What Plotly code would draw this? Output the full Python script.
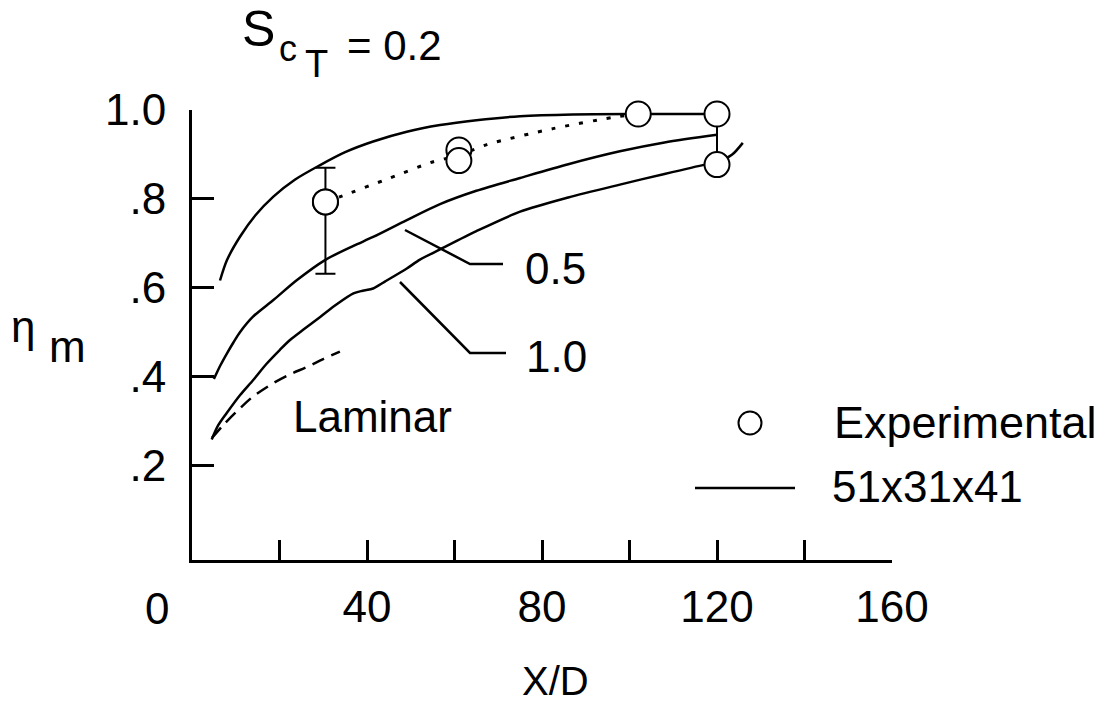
import plotly.graph_objects as go

# ---------------- data ----------------
sc02_x = [6.4, 8.0, 11.0, 14.5, 18.6, 23.5, 29.3, 35.0, 41.4, 49.1, 56.7, 65.0, 75.0, 87.0, 102.0, 120.0]
sc02_y = [0.616, 0.662, 0.715, 0.763, 0.805, 0.843, 0.876, 0.905, 0.929, 0.951, 0.966, 0.977, 0.986, 0.990, 0.991, 0.991]

sc05_x = [5.0, 6.5, 8.0, 9.5, 11.0, 14.0, 18.6, 24.0, 30.4, 36.9, 41.4, 49.1, 56.7, 65.0, 75.0, 86.0, 97.8, 108.0, 120.0]
sc05_y = [0.394, 0.425, 0.452, 0.477, 0.500, 0.535, 0.572, 0.617, 0.662, 0.694, 0.714, 0.752, 0.788, 0.818, 0.847, 0.878, 0.907, 0.927, 0.944]

sc10_x = [4.5, 6.0, 7.9, 11.0, 14.0, 17.0, 20.1, 22.4, 25.4, 29.3, 33.0, 36.9, 39.0, 41.4, 44.0, 49.1,
          52.1, 56.7, 65.0, 75.0, 86.0, 97.8, 108.0, 117.3, 120.0, 123.4, 125.9]
sc10_y = [0.258, 0.290, 0.317, 0.358, 0.392, 0.428, 0.460, 0.482, 0.505, 0.534, 0.562, 0.587, 0.593, 0.598, 0.613, 0.643,
          0.663, 0.686, 0.727, 0.771, 0.803, 0.832, 0.856, 0.877, 0.882, 0.899, 0.926]

lam_x = [4.6, 7.2, 10.2, 14.0, 18.6, 22.0, 26.2, 30.0, 33.8]
lam_y = [0.262, 0.291, 0.321, 0.355, 0.385, 0.403, 0.421, 0.439, 0.456]

dot_x = [30.5, 34.5, 45.0, 55.0, 61.0, 67.4, 82.5, 96.0, 102.0]
dot_y = [0.793, 0.807, 0.846, 0.883, 0.898, 0.922, 0.958, 0.983, 0.991]

exp_x = [30.5, 61.0, 61.0, 102.0, 120.0, 120.0]
exp_y = [0.793, 0.910, 0.886, 0.991, 0.991, 0.877]

err_x = [30.5]
err_y = [0.793]
err_plus = [0.077]
err_minus = [0.162]

link_x = [120.0, 120.0]
link_y = [0.991, 0.877]

x_tickvals = [0, 20, 40, 60, 80, 100, 120, 140, 160]
x_ticktext = ["", "", "40", "", "80", "", "120", "", "160"]
y_tickvals = [0.2, 0.4, 0.6, 0.8, 1.0]
y_ticktext = [".2", ".4", ".6", ".8", "1.0"]

# ---------------- figure ----------------
FONT = "Liberation Sans, Arial, Helvetica, sans-serif"
L, R, T, B = 192, 223, 110, 148
W, H = 1115, 708
PW, PH = W - L - R, H - T - B


def px(x):
    return (x - L) / PW


def py(y):
    return (H - B - y) / PH


fig = go.Figure()
line_style = dict(color="black", width=2.5, shape="spline", smoothing=0.8)

for xs, ys in ((sc02_x, sc02_y), (sc05_x, sc05_y), (sc10_x, sc10_y)):
    fig.add_trace(go.Scatter(x=xs, y=ys, mode="lines", line=line_style, cliponaxis=False))

fig.add_trace(go.Scatter(x=lam_x, y=lam_y, mode="lines",
                         line=dict(color="black", width=2.5, dash="13px,8px",
                                   shape="spline", smoothing=0.8),
                         cliponaxis=False))
fig.add_trace(go.Scatter(x=dot_x, y=dot_y, mode="lines",
                         line=dict(color="black", width=3, dash="4px,10px",
                                   shape="spline", smoothing=0.8),
                         cliponaxis=False))
fig.add_trace(go.Scatter(x=link_x, y=link_y, mode="lines",
                         line=dict(color="black", width=2), cliponaxis=False))
fig.add_trace(go.Scatter(x=err_x, y=err_y, mode="markers",
                         marker=dict(size=25, color="white", line=dict(color="black", width=2)),
                         error_y=dict(type="data", symmetric=False, array=err_plus,
                                      arrayminus=err_minus, color="black", thickness=2, width=10),
                         cliponaxis=False))
fig.add_trace(go.Scatter(x=exp_x, y=exp_y, mode="markers",
                         marker=dict(size=25, color="white", symbol="circle",
                                     line=dict(color="black", width=2)),
                         cliponaxis=False))

# leader lines and legend decorations (in pixel-derived paper coords)
shapes = []


def seg(points, width=2.5):
    d = "M " + " L ".join(f"{px(a)},{py(b)}" for a, b in points)
    shapes.append(dict(type="path", xref="paper", yref="paper", path=d,
                       line=dict(color="black", width=width)))


seg([(405, 230), (470, 264), (503, 264)])
seg([(400, 282), (470, 353), (506, 353)])
seg([(695, 488), (795, 488)])
shapes.append(dict(type="circle", xref="paper", yref="paper",
                   x0=px(750 - 11.5), x1=px(750 + 11.5), y0=py(423 + 11.5), y1=py(423 - 11.5),
                   line=dict(color="black", width=2), fillcolor="white"))

annotations = []


def txt(s, x, y, size=44, xanchor="center", yanchor="middle"):
    annotations.append(dict(text=s, x=px(x), y=py(y), xref="paper", yref="paper",
                            showarrow=False, xanchor=xanchor, yanchor=yanchor,
                            font=dict(family=FONT, size=size, color="black")))


txt("0.5", 555, 268)
txt("1.0", 556, 356)
txt("Laminar", 291, 416, xanchor="left")
txt("Experimental", 832, 423, size=45, xanchor="left")
txt("51x31x41", 830, 486, xanchor="left")
txt("0", 157, 608)
txt("X/D", 555, 681, size=40)
txt("η", 23, 326)
txt("m", 67, 346)
txt("S", 258, 29, size=50)
txt("c", 288, 48, size=36)
txt("T", 316, 64, size=38)
txt("= 0.2", 345, 45, size=42, xanchor="left")

fig.update_layout(
    width=W, height=H, autosize=False,
    margin=dict(l=L, r=R, t=T, b=B, pad=0),
    paper_bgcolor="white", plot_bgcolor="white",
    showlegend=False,
    font=dict(family=FONT, size=44, color="black"),
    shapes=shapes, annotations=annotations,
    xaxis=dict(range=[0, 160], tickmode="array", tickvals=x_tickvals, ticktext=x_ticktext,
               ticks="inside", ticklen=20, tickwidth=2.5, tickcolor="black",
               showline=True, linewidth=3, linecolor="black", showgrid=False,
               zeroline=False, ticklabelstandoff=6,
               tickfont=dict(family=FONT, size=44, color="black")),
    yaxis=dict(range=[-0.0135, 1.0], tickmode="array", tickvals=y_tickvals, ticktext=y_ticktext,
               ticks="inside", ticklen=22, tickwidth=2.5, tickcolor="black",
               showline=True, linewidth=3, linecolor="black", showgrid=False,
               zeroline=False, ticklabelstandoff=14,
               tickfont=dict(family=FONT, size=44, color="black")),
)

fig.write_html("out.html")
